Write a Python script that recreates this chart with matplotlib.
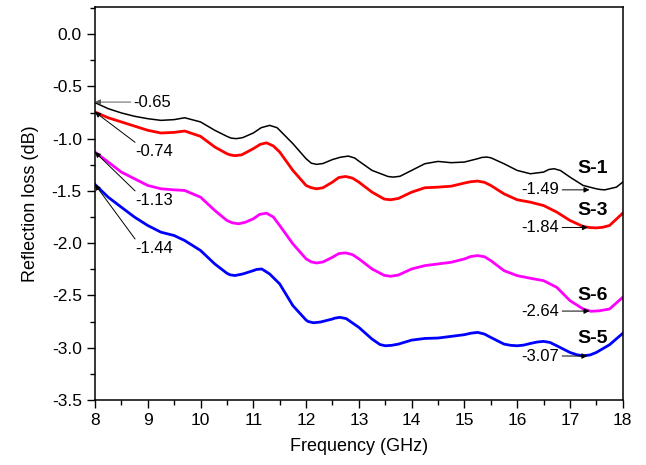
import matplotlib
matplotlib.use("Agg")
import matplotlib.pyplot as plt
from matplotlib.ticker import MultipleLocator

plt.rcParams['font.family'] = ['Liberation Sans', 'DejaVu Sans']

# values, per sample
x1 = [8.0, 8.25, 8.5, 8.75, 9.0, 9.25, 9.5, 9.7, 10.0, 10.27, 10.5, 10.58, 10.68,
      10.8, 11.0, 11.15, 11.31, 11.45, 11.5, 11.75, 12.0, 12.1, 12.2, 12.32, 12.5,
      12.65, 12.8, 12.92, 13.0, 13.25, 13.5, 13.55, 13.65, 13.78, 14.0, 14.25, 14.5,
      14.75, 15.0, 15.25, 15.33, 15.42, 15.5, 15.75, 16.0, 16.25, 16.5, 16.6, 16.7,
      16.82, 17.0, 17.25, 17.5, 17.58, 17.66, 17.88, 18.0]
s1 = [-0.655, -0.713, -0.754, -0.786, -0.809, -0.825, -0.818, -0.80, -0.84, -0.92,
      -0.978, -0.995, -1.00, -0.99, -0.946, -0.895, -0.873, -0.895, -0.92, -1.048,
      -1.192, -1.235, -1.246, -1.238, -1.20, -1.178, -1.167, -1.185, -1.215, -1.304,
      -1.352, -1.362, -1.368, -1.360, -1.304, -1.24, -1.218, -1.23, -1.224, -1.192,
      -1.180, -1.176, -1.183, -1.24, -1.304, -1.336, -1.32, -1.295, -1.288, -1.305,
      -1.368, -1.448, -1.48, -1.487, -1.49, -1.464, -1.416]

x3 = [8.0, 8.25, 8.5, 8.75, 9.0, 9.25, 9.5, 9.7, 10.0, 10.27, 10.5, 10.56, 10.65,
      10.78, 11.0, 11.13, 11.25, 11.38, 11.5, 11.75, 12.0, 12.1, 12.2, 12.32, 12.5,
      12.62, 12.75, 12.88, 13.0, 13.25, 13.48, 13.6, 13.75, 14.0, 14.25, 14.5, 14.75,
      15.0, 15.12, 15.25, 15.38, 15.5, 15.75, 16.0, 16.25, 16.5, 16.75, 17.0, 17.25,
      17.38, 17.5, 17.62, 17.75, 18.0]
s3 = [-0.745, -0.80, -0.84, -0.88, -0.92, -0.946, -0.94, -0.927, -0.978, -1.08,
      -1.144, -1.155, -1.163, -1.155, -1.096, -1.055, -1.04, -1.07, -1.128, -1.304,
      -1.448, -1.47, -1.48, -1.47, -1.416, -1.372, -1.362, -1.378, -1.416, -1.512,
      -1.578, -1.585, -1.572, -1.512, -1.47, -1.464, -1.455, -1.425, -1.412, -1.406,
      -1.418, -1.448, -1.528, -1.585, -1.608, -1.64, -1.703, -1.783, -1.841, -1.851,
      -1.854, -1.848, -1.831, -1.713]

x6 = [8.0, 8.25, 8.5, 8.75, 9.0, 9.25, 9.5, 9.7, 10.0, 10.27, 10.5, 10.6, 10.72,
      10.85, 11.0, 11.12, 11.25, 11.38, 11.5, 11.75, 12.0, 12.1, 12.2, 12.32, 12.5,
      12.62, 12.75, 12.88, 13.0, 13.25, 13.48, 13.6, 13.75, 14.0, 14.25, 14.5, 14.75,
      15.0, 15.12, 15.25, 15.38, 15.5, 15.75, 16.0, 16.25, 16.5, 16.75, 17.0, 17.25,
      17.4, 17.55, 17.75, 18.0]
s6 = [-1.128, -1.224, -1.32, -1.384, -1.448, -1.48, -1.49, -1.496, -1.56, -1.687,
      -1.783, -1.805, -1.815, -1.80, -1.767, -1.725, -1.713, -1.75, -1.831, -2.007,
      -2.15, -2.18, -2.19, -2.18, -2.135, -2.10, -2.093, -2.11, -2.15, -2.247,
      -2.308, -2.317, -2.305, -2.247, -2.215, -2.199, -2.183, -2.151, -2.128, -2.119,
      -2.13, -2.167, -2.263, -2.311, -2.336, -2.359, -2.423, -2.55, -2.63, -2.652,
      -2.648, -2.63, -2.518]

x5 = [8.0, 8.25, 8.5, 8.75, 9.0, 9.25, 9.5, 9.7, 10.0, 10.27, 10.5, 10.56, 10.65,
      10.8, 11.0, 11.06, 11.16, 11.31, 11.5, 11.75, 12.0, 12.04, 12.14, 12.27, 12.5,
      12.54, 12.64, 12.76, 13.0, 13.25, 13.4, 13.5, 13.62, 13.75, 14.0, 14.25, 14.5,
      14.75, 15.0, 15.12, 15.25, 15.38, 15.5, 15.75, 15.88, 16.0, 16.12, 16.25, 16.38,
      16.5, 16.62, 16.75, 17.0, 17.13, 17.25, 17.38, 17.5, 17.75, 18.0]
s5 = [-1.438, -1.56, -1.656, -1.751, -1.831, -1.895, -1.927, -1.975, -2.07, -2.199,
      -2.288, -2.303, -2.31, -2.295, -2.263, -2.252, -2.247, -2.295, -2.39, -2.598,
      -2.736, -2.75, -2.762, -2.755, -2.726, -2.718, -2.71, -2.722, -2.806, -2.918,
      -2.97, -2.982, -2.978, -2.966, -2.928, -2.912, -2.908, -2.892, -2.876, -2.862,
      -2.854, -2.87, -2.902, -2.966, -2.978, -2.982, -2.976, -2.96, -2.946, -2.94,
      -2.95, -2.982, -3.046, -3.068, -3.078, -3.07, -3.046, -2.972, -2.863]

names = ['S-1', 'S-3', 'S-6', 'S-5']
colors = ['black', '#ff0000', '#ff00ff', '#0000ff']
widths = [1.1, 2.0, 2.0, 2.0]
name_y = [-1.29, -1.69, -2.50, -2.91]

start_vals = ['-0.65', '-0.74', '-1.13', '-1.44']
min_vals = ['-1.49', '-1.84', '-2.64', '-3.07']
min_x = [17.37, 17.34, 17.37, 17.33]
min_y = [-1.49, -1.85, -2.65, -3.08]

fig = plt.figure(figsize=(6.46, 4.65), dpi=100)
ax = fig.add_axes([0.147, 0.140, 0.817, 0.845])

for xs, ys, c, lw in zip([x1, x3, x6, x5], [s1, s3, s6, s5], colors, widths):
    ax.plot(xs, ys, color=c, lw=lw, solid_joinstyle='round')

for n, y in zip(names, name_y):
    ax.text(17.43, y, n, fontsize=14, fontweight='bold', ha='center', va='center')

arr = dict(arrowstyle='-|>', lw=0.7, color='black', mutation_scale=8,
           shrinkA=0, shrinkB=0)

# start-point labels (left side)
ax.annotate(start_vals[0], xy=(8.0, -0.65), xytext=(8.73, -0.65),
            fontsize=12, ha='left', va='center', arrowprops=dict(arr, color='0.35'))
tails = [-1.035, -1.50, -1.96]
for s, y0, ty in zip(start_vals[1:], [s3[0], s6[0], s5[0]], tails):
    ax.annotate('', xy=(8.0, y0), xytext=(8.76, ty), arrowprops=arr)
    ax.text(8.76, ty - 0.02, s, fontsize=12, ha='left', va='top')

# minimum labels (right side)
for s, mx, my in zip(min_vals, min_x, min_y):
    ax.annotate(s, xy=(mx, my), xytext=(16.8, my), fontsize=12,
                ha='right', va='center', arrowprops=arr)

ax.set_xlim(8, 18)
ax.set_ylim(-3.5, 0.26)
ax.xaxis.set_major_locator(MultipleLocator(1))
ax.xaxis.set_minor_locator(MultipleLocator(0.5))
ax.yaxis.set_major_locator(MultipleLocator(0.5))
ax.yaxis.set_minor_locator(MultipleLocator(0.25))
ax.yaxis.set_major_formatter(plt.FormatStrFormatter('%.1f'))
ax.tick_params(which='major', direction='out', length=6, width=1, labelsize=12.5)
ax.tick_params(which='minor', direction='out', length=3.5, width=1)
for sp in ax.spines.values():
    sp.set_linewidth(1.1)

ax.set_xlabel('Frequency (GHz)', fontsize=13, labelpad=7)
ax.set_ylabel('Reflection loss (dB)', fontsize=13, labelpad=9)

fig.savefig('out.png', dpi=100)
